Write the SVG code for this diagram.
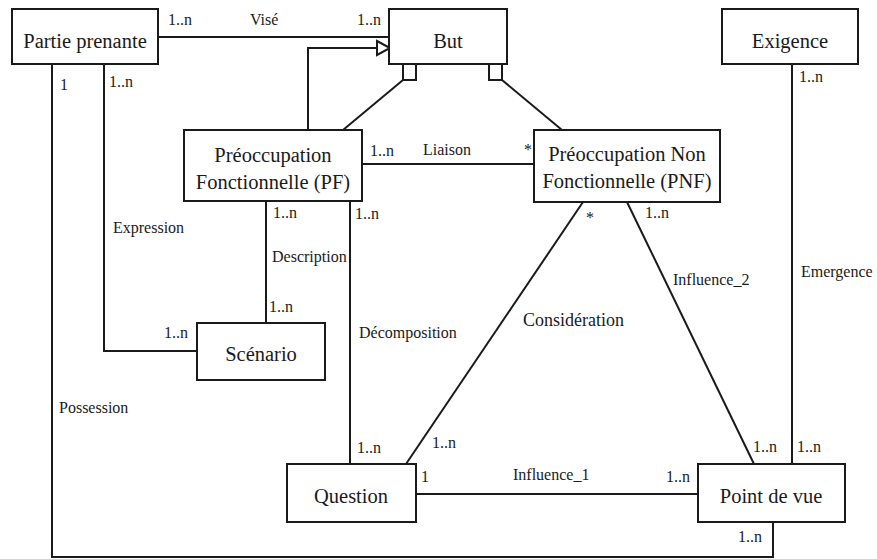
<svg xmlns="http://www.w3.org/2000/svg" width="877" height="559" viewBox="0 0 877 559">
  <style>
    .box { fill: #ffffff; stroke: #1a1a1a; stroke-width: 2; }
    .name { font-family: "Liberation Serif", "DejaVu Serif", serif; font-size: 20.5px; fill: #1a1a1a; text-anchor: middle; }
    .lbl { font-family: "Liberation Serif", "DejaVu Serif", serif; font-size: 16px; fill: #1a1a1a; }
    .edge { fill: none; stroke: #1a1a1a; stroke-width: 2; }
  </style>
  <rect width="877" height="559" fill="#ffffff"/>

  <!-- connectors -->
  <g id="connectors">
    <!-- Visé -->
    <line class="edge" x1="158" y1="37" x2="390" y2="37"/>
    <!-- specialisation PF -> But (hollow triangle) -->
    <polyline class="edge" points="308,130 308,48 377,48"/>
    <polygon points="377,41 390,48 377,55" fill="#ffffff" stroke="#1a1a1a" stroke-width="2"/>
    <!-- composition squares under But -->
    <rect x="403" y="64" width="13" height="16" fill="#ffffff" stroke="#1a1a1a" stroke-width="2"/>
    <rect x="489" y="64" width="13" height="16" fill="#ffffff" stroke="#1a1a1a" stroke-width="2"/>
    <line class="edge" x1="403" y1="80" x2="343" y2="130"/>
    <line class="edge" x1="502" y1="80" x2="562" y2="130"/>
    <!-- Liaison -->
    <line class="edge" x1="362" y1="164" x2="534" y2="164"/>
    <!-- Expression -->
    <polyline class="edge" points="104,64 104,351 197,351"/>
    <!-- Possession -->
    <polyline class="edge" points="52,64 52,557 773,557 773,522"/>
    <!-- Description -->
    <line class="edge" x1="266" y1="201" x2="266" y2="323"/>
    <!-- Décomposition -->
    <line class="edge" x1="350" y1="201" x2="350" y2="464"/>
    <!-- Considération -->
    <line class="edge" x1="583" y1="202" x2="406" y2="464"/>
    <!-- Influence_2 -->
    <line class="edge" x1="627" y1="202" x2="754" y2="464"/>
    <!-- Emergence -->
    <line class="edge" x1="792" y1="64" x2="792" y2="464"/>
    <!-- Influence_1 -->
    <line class="edge" x1="416" y1="494" x2="698" y2="494"/>
  </g>

  <!-- connector labels and multiplicities -->
  <g id="labels" class="lbl">
    <text x="168" y="25">1..n</text>
    <text x="250" y="25">Visé</text>
    <text x="357" y="25">1..n</text>
    <text x="60" y="90">1</text>
    <text x="109" y="87">1..n</text>
    <text x="370" y="156">1..n</text>
    <text x="423" y="155">Liaison</text>
    <text x="524" y="155">*</text>
    <text x="799" y="82">1..n</text>
    <text x="273" y="218">1..n</text>
    <text x="355" y="219">1..n</text>
    <text x="113" y="233">Expression</text>
    <text x="272" y="262">Description</text>
    <text x="269" y="312">1..n</text>
    <text x="164" y="338">1..n</text>
    <text x="359" y="338">Décomposition</text>
    <text x="586" y="223">*</text>
    <text x="645" y="218">1..n</text>
    <text x="673" y="285">Influence_2</text>
    <text x="801" y="277">Emergence</text>
    <text x="523" y="326" style="font-size:18px">Considération</text>
    <text x="59" y="413">Possession</text>
    <text x="357" y="453">1..n</text>
    <text x="432" y="448">1..n</text>
    <text x="753" y="452">1..n</text>
    <text x="797" y="452">1..n</text>
    <text x="421" y="482">1</text>
    <text x="513" y="480">Influence_1</text>
    <text x="666" y="482">1..n</text>
    <text x="738" y="542">1..n</text>
  </g>

  <!-- nodes -->
  <g id="partie-prenante">
    <rect class="box" x="12" y="9" width="146" height="55"/>
    <text class="name" x="85" y="48">Partie prenante</text>
  </g>
  <g id="but">
    <rect class="box" x="389" y="9" width="118" height="55"/>
    <text class="name" x="448" y="48">But</text>
  </g>
  <g id="exigence">
    <rect class="box" x="722" y="9" width="136" height="55"/>
    <text class="name" x="790" y="48">Exigence</text>
  </g>
  <g id="pf">
    <rect class="box" x="184" y="130" width="178" height="71"/>
    <text class="name" x="273" y="162">Préoccupation</text>
    <text class="name" x="273" y="189">Fonctionnelle (PF)</text>
  </g>
  <g id="pnf">
    <rect class="box" x="534" y="130" width="186" height="72"/>
    <text class="name" x="627" y="161">Préoccupation Non</text>
    <text class="name" x="627" y="188">Fonctionnelle (PNF)</text>
  </g>
  <g id="scenario">
    <rect class="box" x="197" y="323" width="128" height="57"/>
    <text class="name" x="261" y="361">Scénario</text>
  </g>
  <g id="question">
    <rect class="box" x="287" y="464" width="129" height="58"/>
    <text class="name" x="351" y="503">Question</text>
  </g>
  <g id="point-de-vue">
    <rect class="box" x="698" y="464" width="147" height="58"/>
    <text class="name" x="771" y="503">Point de vue</text>
  </g>
</svg>
